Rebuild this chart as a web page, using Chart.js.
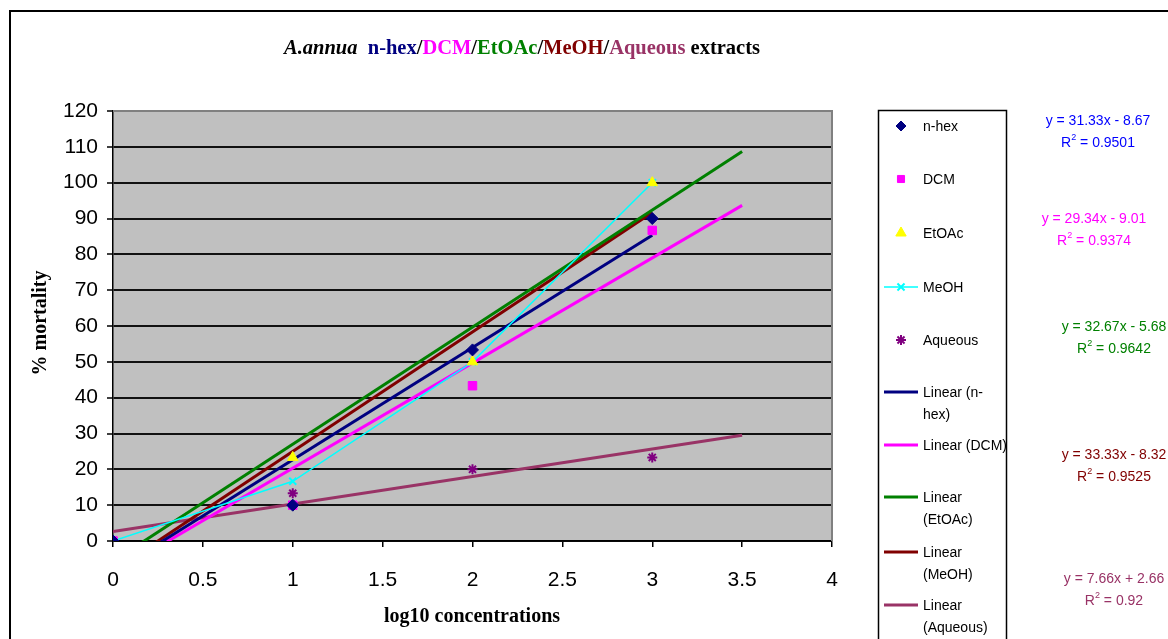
<!DOCTYPE html>
<html>
<head>
<meta charset="utf-8">
<script src="https://cdn.jsdelivr.net/npm/chart.js@4/dist/chart.umd.min.js"></script>
<style>
html,body{margin:0;padding:0;background:#fff;}
#wrap{position:relative;width:1168px;height:639px;overflow:hidden;}
#frame{position:absolute;left:9px;top:10px;width:1200px;height:700px;border-left:2px solid #000;border-top:2px solid #000;box-sizing:border-box;}
canvas{position:absolute;left:0;top:0;}
</style>
</head>
<body>
<div id="wrap"><div id="frame"></div><canvas id="c" width="1168" height="639"></canvas></div>
<script>
// ---- data ----
const xValues = [0, 1, 2, 3];
const seriesNames = ['n-hex', 'DCM', 'EtOAc', 'MeOH', 'Aqueous'];
const nhexValues = [0, 10, 53.33, 90];
const dcmValues = [0, 10, 43.33, 86.67];
const etoacValues = [0, 23.33, 50, 100];
const meohValues = [0, 16.67, 50, 100];
const aqueousValues = [0, 13.33, 20, 23.33];
const trendEnds = [3, 3.5, 3.5, 3, 3.5];
const equationLabels = ['y = 31.33x - 8.67', 'y = 29.34x - 9.01', 'y = 32.67x - 5.68', 'y = 33.33x - 8.32', 'y = 7.66x + 2.66'];
const r2Labels = ['0.9501', '0.9374', '0.9642', '0.9525', '0.92'];
const yTickValues = [0,10,20,30,40,50,60,70,80,90,100,110,120];
const xTickValues = [0,0.5,1,1.5,2,2.5,3,3.5,4];

const allSeries = [nhexValues, dcmValues, etoacValues, meohValues, aqueousValues];
const markerColors = ['#000080', '#FF00FF', '#FFFF00', '#00FFFF', '#800080'];
const trendColors = ['#000080', '#FF00FF', '#008000', '#800000', '#993366'];
const eqColors = ['#0000FF', '#FF00FF', '#008000', '#800000', '#993366'];
const pointStyles = ['rectRot', 'rect', 'triangle', 'crossRot', 'star'];
const pointRadii = [6, 6, 6, 5, 5];

function regress(xs, ys) {
  const n = xs.length;
  const mx = xs.reduce((a,b)=>a+b,0)/n, my = ys.reduce((a,b)=>a+b,0)/n;
  let sxy = 0, sxx = 0;
  for (let i=0;i<n;i++){ sxy += (xs[i]-mx)*(ys[i]-my); sxx += (xs[i]-mx)*(xs[i]-mx); }
  const m = sxy/sxx; return {m, b: my - m*mx};
}

const datasets = [];
allSeries.forEach((ys, i) => {
  datasets.push({
    label: seriesNames[i],
    data: xValues.map((x, j) => ({x, y: ys[j]})),
    showLine: i === 3,
    borderColor: markerColors[i],
    backgroundColor: markerColors[i],
    borderWidth: i === 3 ? 1.5 : 1,
    pointStyle: pointStyles[i],
    pointRadius: pointRadii[i],
    pointBorderWidth: (i === 3 || i === 4) ? 2 : 1,
    order: 0
  });
});
allSeries.forEach((ys, i) => {
  const r = regress(xValues, ys);
  const xe = trendEnds[i];
  datasets.push({
    label: 'Linear (' + seriesNames[i] + ')',
    data: [{x: 0, y: r.b}, {x: xe, y: r.m*xe + r.b}],
    showLine: true,
    borderColor: trendColors[i],
    backgroundColor: trendColors[i],
    borderWidth: 3,
    pointRadius: 0,
    order: 1
  });
});

const SANS = '"Liberation Sans", Arial, sans-serif';
const SERIF = '"Liberation Serif", "Times New Roman", serif';

const decor = {
  id: 'decor',
  beforeDraw(chart) {
    const {ctx, chartArea: a} = chart;
    ctx.save();
    ctx.fillStyle = '#C0C0C0';
    ctx.fillRect(a.left, a.top, a.right - a.left, a.bottom - a.top);
    ctx.restore();
  },
  afterDraw(chart) {
    const {ctx, chartArea: a} = chart;
    ctx.save();
    // plot top/right border
    ctx.strokeStyle = '#808080'; ctx.lineWidth = 2;
    ctx.beginPath(); ctx.moveTo(a.left, a.top); ctx.lineTo(a.right, a.top); ctx.lineTo(a.right, a.bottom); ctx.stroke();

    // title
    const TF = 'bold 20.5px ' + SERIF;
    const parts = [
      {t: 'A.annua', c: '#000', f: 'italic bold 20.5px ' + SERIF},
      {t: '  n-hex', c: '#000080', f: TF},
      {t: '/', c: '#000', f: TF},
      {t: 'DCM', c: '#FF00FF', f: TF},
      {t: '/', c: '#000', f: TF},
      {t: 'EtOAc', c: '#008000', f: TF},
      {t: '/', c: '#000', f: TF},
      {t: 'MeOH', c: '#800000', f: TF},
      {t: '/', c: '#000', f: TF},
      {t: 'Aqueous', c: '#993366', f: TF},
      {t: ' extracts', c: '#000', f: TF}
    ];
    let total = 0;
    parts.forEach(p => { ctx.font = p.f; p.w = ctx.measureText(p.t).width; total += p.w; });
    let x = 522 - total/2;
    ctx.textBaseline = 'middle'; ctx.textAlign = 'left';
    parts.forEach(p => { ctx.font = p.f; ctx.fillStyle = p.c; ctx.fillText(p.t, x, 49); x += p.w; });

    // axis titles
    ctx.fillStyle = '#000';
    ctx.font = 'bold 20px ' + SERIF;
    ctx.textAlign = 'center';
    ctx.fillText('log10 concentrations', 472, 617);
    ctx.save(); ctx.translate(41, 323); ctx.rotate(-Math.PI/2); ctx.fillText('% mortality', 0, 0); ctx.restore();

    // legend box
    ctx.strokeStyle = '#000'; ctx.lineWidth = 1.5;
    ctx.strokeRect(878.5, 110.5, 128, 600);
    ctx.font = '14px ' + SANS; ctx.textAlign = 'left'; ctx.fillStyle = '#000';
    const markerRows = [126, 179, 233, 287, 340];
    markerRows.forEach((yy, i) => {
      const ds = chart.data.datasets[i];
      if (i === 3) {
        ctx.strokeStyle = ds.borderColor; ctx.lineWidth = 1.5;
        ctx.beginPath(); ctx.moveTo(884, yy); ctx.lineTo(918, yy); ctx.stroke();
      }
      ctx.fillStyle = ds.backgroundColor; ctx.strokeStyle = ds.borderColor; ctx.lineWidth = ds.pointBorderWidth;
      ctx.beginPath();
      Chart.helpers.drawPoint(ctx, {pointStyle: ds.pointStyle, radius: i === 2 ? 6 : 5, borderWidth: ds.pointBorderWidth, rotation: 0}, 901, yy);
      ctx.fillStyle = '#000';
      ctx.fillText(seriesNames[i], 923, yy + 1);
    });
    const trendRows = [
      {y: 392, lines: ['Linear (n-', 'hex)']},
      {y: 445, lines: ['Linear (DCM)']},
      {y: 497, lines: ['Linear', '(EtOAc)']},
      {y: 552, lines: ['Linear', '(MeOH)']},
      {y: 605, lines: ['Linear', '(Aqueous)']}
    ];
    trendRows.forEach((r, i) => {
      ctx.strokeStyle = trendColors[i]; ctx.lineWidth = 3;
      ctx.beginPath(); ctx.moveTo(884, r.y); ctx.lineTo(918, r.y); ctx.stroke();
      ctx.fillStyle = '#000';
      r.lines.forEach((t, k) => ctx.fillText(t, 923, r.y + 1 + k*22));
    });

    // equations
    const eqPos = [{x: 1098, y: 121}, {x: 1094, y: 219}, {x: 1114, y: 327}, {x: 1114, y: 455}, {x: 1114, y: 579}];
    eqPos.forEach((p, i) => {
      ctx.fillStyle = eqColors[i];
      ctx.font = '14px ' + SANS; ctx.textAlign = 'center';
      ctx.fillText(equationLabels[i], p.x, p.y);
      ctx.font = '14px ' + SANS;
      const wR = ctx.measureText('R').width;
      const rest = ' = ' + r2Labels[i];
      const wRest = ctx.measureText(rest).width;
      ctx.font = '9px ' + SANS;
      const w2 = ctx.measureText('2').width;
      const tw = wR + w2 + wRest;
      let sx = p.x - tw/2;
      const yy = p.y + 22;
      ctx.textAlign = 'left';
      ctx.font = '14px ' + SANS; ctx.fillText('R', sx, yy); sx += wR;
      ctx.font = '9px ' + SANS; ctx.fillText('2', sx, yy - 5); sx += w2;
      ctx.font = '14px ' + SANS; ctx.fillText(rest, sx, yy);
    });
    ctx.restore();
  }
};

new Chart(document.getElementById('c'), {
  type: 'scatter',
  data: { datasets },
  options: {
    responsive: false,
    animation: false,
    layout: { padding: { left: 0, top: 111, right: 336, bottom: 0 } },
    plugins: { legend: { display: false }, title: { display: false }, tooltip: { enabled: false } },
    scales: {
      x: {
        type: 'linear', min: 0, max: 4,
        afterFit(s) { s.height = 98; },
        afterBuildTicks(s) { s.ticks = xTickValues.map(v => ({value: v})); },
        ticks: { color: '#000', font: { family: SANS, size: 21 }, padding: 21, maxRotation: 0, callback: v => String(v) },
        grid: { drawOnChartArea: false, drawTicks: true, tickLength: 6, color: '#000', lineWidth: 1.5 },
        border: { display: true, color: '#000', width: 1.5 }
      },
      y: {
        type: 'linear', min: 0, max: 120,
        afterFit(s) { s.width = 113; },
        afterBuildTicks(s) { s.ticks = yTickValues.map(v => ({value: v})); },
        ticks: { color: '#000', font: { family: SANS, size: 21 }, padding: 9, callback: v => String(v) },
        grid: { color: '#111', lineWidth: 2, tickLength: 6, tickColor: '#000', tickWidth: 1.5 },
        border: { display: true, color: '#000', width: 1.5 }
      }
    }
  },
  plugins: [decor]
});
</script>
</body>
</html>
